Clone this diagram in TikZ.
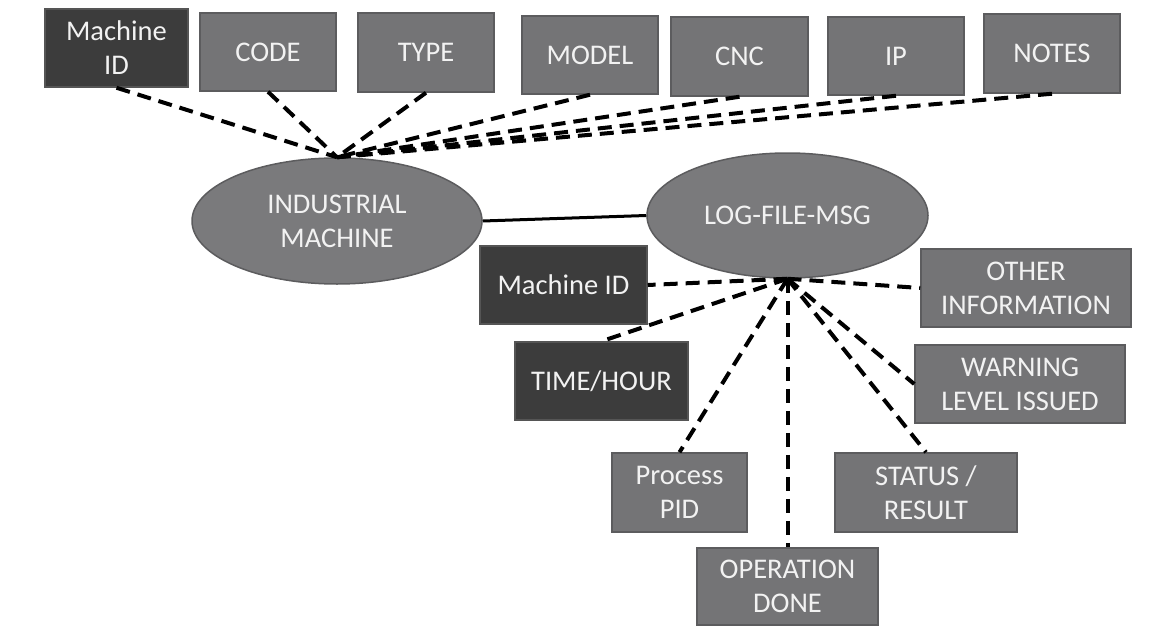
\documentclass[tikz,border=0pt]{standalone}
\usepackage{fontspec}
\setmainfont{Carlito}
\usetikzlibrary{shapes.geometric}
\definecolor{boxgray}{HTML}{747476}
\definecolor{boxedge}{HTML}{5C5C5E}
\definecolor{darkbox}{HTML}{3C3C3C}
\definecolor{darkedge}{HTML}{555555}
\definecolor{ellgray}{HTML}{7A7A7C}
\definecolor{txt}{HTML}{F2F2F2}
\begin{document}
\begin{tikzpicture}[x=1pt,y=-1pt,
  every node/.style={font=\fontsize{28.5}{34}\selectfont, text=txt, align=center, inner sep=0pt},
  gbox/.style={draw=boxedge, line width=1.5pt, fill=boxgray, rectangle},
  dbox/.style={draw=darkedge, line width=1.5pt, fill=darkbox, rectangle},
  ell/.style={draw=boxedge, line width=1.5pt, fill=ellgray, ellipse},
  dashlink/.style={draw=black, line width=4pt, dash pattern=on 14pt off 8pt},
  solidlink/.style={draw=black, line width=3pt}]
\useasboundingbox (0,0) rectangle (1164,626);
% top boxes
\node[dbox, minimum width=143pt, minimum height=78pt] (mid1) at (116.5,48) {Machine\\ID};
\node[gbox, minimum width=136pt, minimum height=78pt] (code) at (268,52) {CODE};
\node[gbox, minimum width=136pt, minimum height=79pt] (type) at (426,52.5) {TYPE};
\node[gbox, minimum width=136pt, minimum height=78pt] (model) at (590,55) {MODEL};
\node[gbox, minimum width=137pt, minimum height=79pt] (cnc) at (739.5,56.5) {CNC};
\node[gbox, minimum width=136pt, minimum height=78pt] (ip) at (896,56) {IP};
\node[gbox, minimum width=136pt, minimum height=79pt] (notes) at (1052,53.5) {NOTES};
% ellipses
\node[ell, minimum width=290pt, minimum height=126pt] (im) at (337,221) {INDUSTRIAL\\MACHINE};
\node[ell, minimum width=281pt, minimum height=125pt] (log) at (787.5,215.5) {LOG-FILE-MSG};
% lower boxes
\node[dbox, minimum width=167pt, minimum height=78pt] (mid2) at (563.5,285) {Machine ID};
\node[dbox, minimum width=173pt, minimum height=78pt] (time) at (601.5,381) {TIME/HOUR};
\node[gbox, minimum width=135pt, minimum height=79pt] (pid) at (679.5,492.5) {Process\\PID};
\node[gbox, minimum width=181pt, minimum height=77pt] (op) at (787.5,586.5) {OPERATION\\DONE};
\node[gbox, minimum width=182pt, minimum height=79pt] (status) at (926,492.5) {STATUS /\\RESULT};
\node[gbox, minimum width=210pt, minimum height=78pt] (warn) at (1020,384) {WARNING\\LEVEL ISSUED};
\node[gbox, minimum width=210pt, minimum height=78pt] (other) at (1026,288) {OTHER\\INFORMATION};
% connectors top
\foreach \n in {mid1,code,type,model,cnc,ip,notes}
  \draw[dashlink] (\n.south) -- (im.north);
\draw[solidlink] (im.east) -- (log.west);
% connectors bottom
\draw[dashlink] (log.south) -- (mid2.east);
\draw[dashlink] (log.south) -- (time.north);
\draw[dashlink] (log.south) -- (pid.north);
\draw[dashlink] (log.south) -- (op.north);
\draw[dashlink] (log.south) -- (status.north);
\draw[dashlink] (log.south) -- (warn.west);
\draw[dashlink] (log.south) -- (other.west);
\end{tikzpicture}
\end{document}
